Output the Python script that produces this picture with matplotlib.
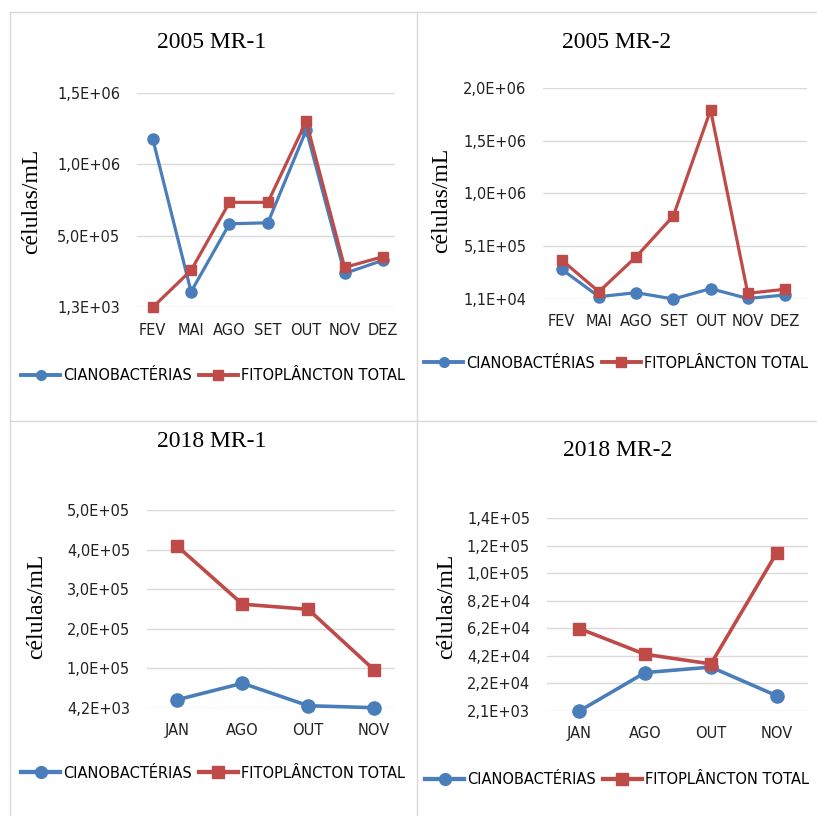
import numpy as np
import matplotlib as mpl
mpl.use('Agg')
import matplotlib.pyplot as plt
from matplotlib.lines import Line2D
from matplotlib.ticker import FuncFormatter

# data
meses_2005 = ['FEV', 'MAI', 'AGO', 'SET', 'OUT', 'NOV', 'DEZ']
meses_2018 = ['JAN', 'AGO', 'OUT', 'NOV']

ciano_2005_mr1 = [1.18e6, 1.10e5, 5.85e5, 5.92e5, 1.24e6, 2.38e5, 3.30e5]
fito_2005_mr1 = [1.3e3, 2.60e5, 7.35e5, 7.35e5, 1.30e6, 2.80e5, 3.55e5]

ciano_2005_mr2 = [2.92e5, 3.3e4, 7.1e4, 1.1e4, 1.09e5, 1.6e4, 4.9e4]
fito_2005_mr2 = [3.80e5, 8.0e4, 4.11e5, 7.97e5, 1.80e6, 6.5e4, 1.03e5]

ciano_2018_mr1 = [2.4e4, 6.6e4, 9.2e3, 4.2e3]
fito_2018_mr1 = [4.14e5, 2.66e5, 2.53e5, 1.0e5]

ciano_2018_mr2 = [2.1e3, 3.0e4, 3.4e4, 1.32e4]
fito_2018_mr2 = [6.2e4, 4.33e4, 3.63e4, 1.17e5]

# excel style axes: (min, major unit, number of steps)
eixo_2005_mr1 = (1.3e3, 5e5, 3)
eixo_2005_mr2 = (1.1e4, 5e5, 4)
eixo_2018_mr1 = (4.2e3, 1e5, 5)
eixo_2018_mr2 = (2.1e3, 2e4, 7)

titulos = ['2005 MR-1', '2005 MR-2', '2018 MR-1', '2018 MR-2']
serie1 = 'CIANOBACTÉRIAS'
serie2 = 'FITOPLÂNCTON TOTAL'

azul = '#4a7ebb'
vermelho = '#be4b48'
cinza = '#d9d9d9'

W, H = 817, 816
fig = plt.figure(figsize=(W/100, H/100), dpi=100)

def fx(px): return px / W
def fy(py): return 1 - py / H

# panel layout in pixels: L, R, T, B, first cat x, last cat x, title xy, ylabel xy, legend y
paineis = [
    dict(cats=meses_2005, c=ciano_2005_mr1, f=fito_2005_mr1, eixo=eixo_2005_mr1,
         L=137, R=395, T=92.7, B=307.3, p0=152.7, p1=383, tit=(212, 42), yl=(32, 201), leg=(213, 376),
         ms=(8, 7), lw=2.3),
    dict(cats=meses_2005, c=ciano_2005_mr2, f=fito_2005_mr2, eixo=eixo_2005_mr2,
         L=543, R=807, T=87.7, B=299, p0=561.7, p1=785, tit=(617, 43), yl=(442, 200), leg=(616, 363),
         ms=(8, 7), lw=2.3),
    dict(cats=meses_2018, c=ciano_2018_mr1, f=fito_2018_mr1, eixo=eixo_2018_mr1,
         L=146.7, R=395, T=100, B=297.7, p0=176.7, p1=374, tit=(212, 442), yl=(37, 606), leg=(213, 773),
         ms=(9.5, 8), lw=2.6),
    dict(cats=meses_2018, c=ciano_2018_mr2, f=fito_2018_mr2, eixo=eixo_2018_mr2,
         L=546.7, R=808, T=518.3, B=711, p0=579.3, p1=776.7, tit=(618, 450), yl=(447, 606), leg=(617, 780),
         ms=(9.5, 8), lw=2.6),
]
paineis[2]['T'] += 410
paineis[2]['B'] += 410

def fmt_excel(v, pos):
    return f'{v:.1E}'.replace('.', ',')

for i, p in enumerate(paineis):
    ax = fig.add_axes([fx(p['L']), fy(p['B']), fx(p['R'] - p['L']), (p['B'] - p['T']) / H])
    n = len(p['cats'])
    x = np.arange(n)
    s = (p['p1'] - p['p0']) / (n - 1)
    ax.set_xlim(-(p['p0'] - p['L']) / s, (n - 1) + (p['R'] - p['p1']) / s)
    ymin, passo, k = p['eixo']
    ticks = ymin + passo * np.arange(k + 1)
    ax.set_ylim(ticks[0], ticks[-1])
    ax.set_yticks(ticks)
    ax.yaxis.set_major_formatter(FuncFormatter(fmt_excel))
    ax.set_xticks(x)
    ax.set_xticklabels(p['cats'])
    ax.grid(axis='y', color=cinza, lw=1)
    ax.set_axisbelow(True)
    for sp in ax.spines.values():
        sp.set_visible(False)
    ax.tick_params(axis='both', length=0, labelsize=10.5, colors='#222222')
    ax.tick_params(axis='y', pad=12)
    ax.tick_params(axis='x', pad=11)
    ax.plot(x, p['c'], color=azul, lw=p['lw'], marker='o', ms=p['ms'][0], clip_on=False, zorder=3)
    ax.plot(x, p['f'], color=vermelho, lw=p['lw'], marker='s', ms=p['ms'][1], clip_on=False, zorder=4)

    fig.text(fx(p['tit'][0]), fy(p['tit'][1]), titulos[i], ha='center', va='center',
             family='Liberation Serif', fontsize=17)
    fig.text(fx(p['yl'][0]), fy(p['yl'][1]), 'células/mL', ha='center', va='center', rotation=90,
             family='Liberation Serif', fontsize=17)

    h1 = Line2D([], [], color=azul, lw=p['lw'] + 0.5, marker='o', ms=p['ms'][0] - 1)
    h2 = Line2D([], [], color=vermelho, lw=p['lw'] + 0.5, marker='s', ms=p['ms'][1])
    fig.legend([h1, h2], [serie1, serie2], loc='center', ncol=2, frameon=False,
               bbox_to_anchor=(fx(p['leg'][0]), fy(p['leg'][1])), fontsize=10.5,
               handlelength=2.7, handletextpad=0.2, columnspacing=0.45, borderpad=0)

# chart borders
for xs, ys in [((9.5, W), (12, 12)), ((9.5, 9.5), (12, H)), ((416.7, 416.7), (12, H)),
               ((9.5, W), (420.7, 420.7))]:
    fig.add_artist(Line2D([fx(v) for v in xs], [fy(v) for v in ys], color=cinza, lw=1))

plt.savefig('out.png', facecolor='w', dpi=100)
